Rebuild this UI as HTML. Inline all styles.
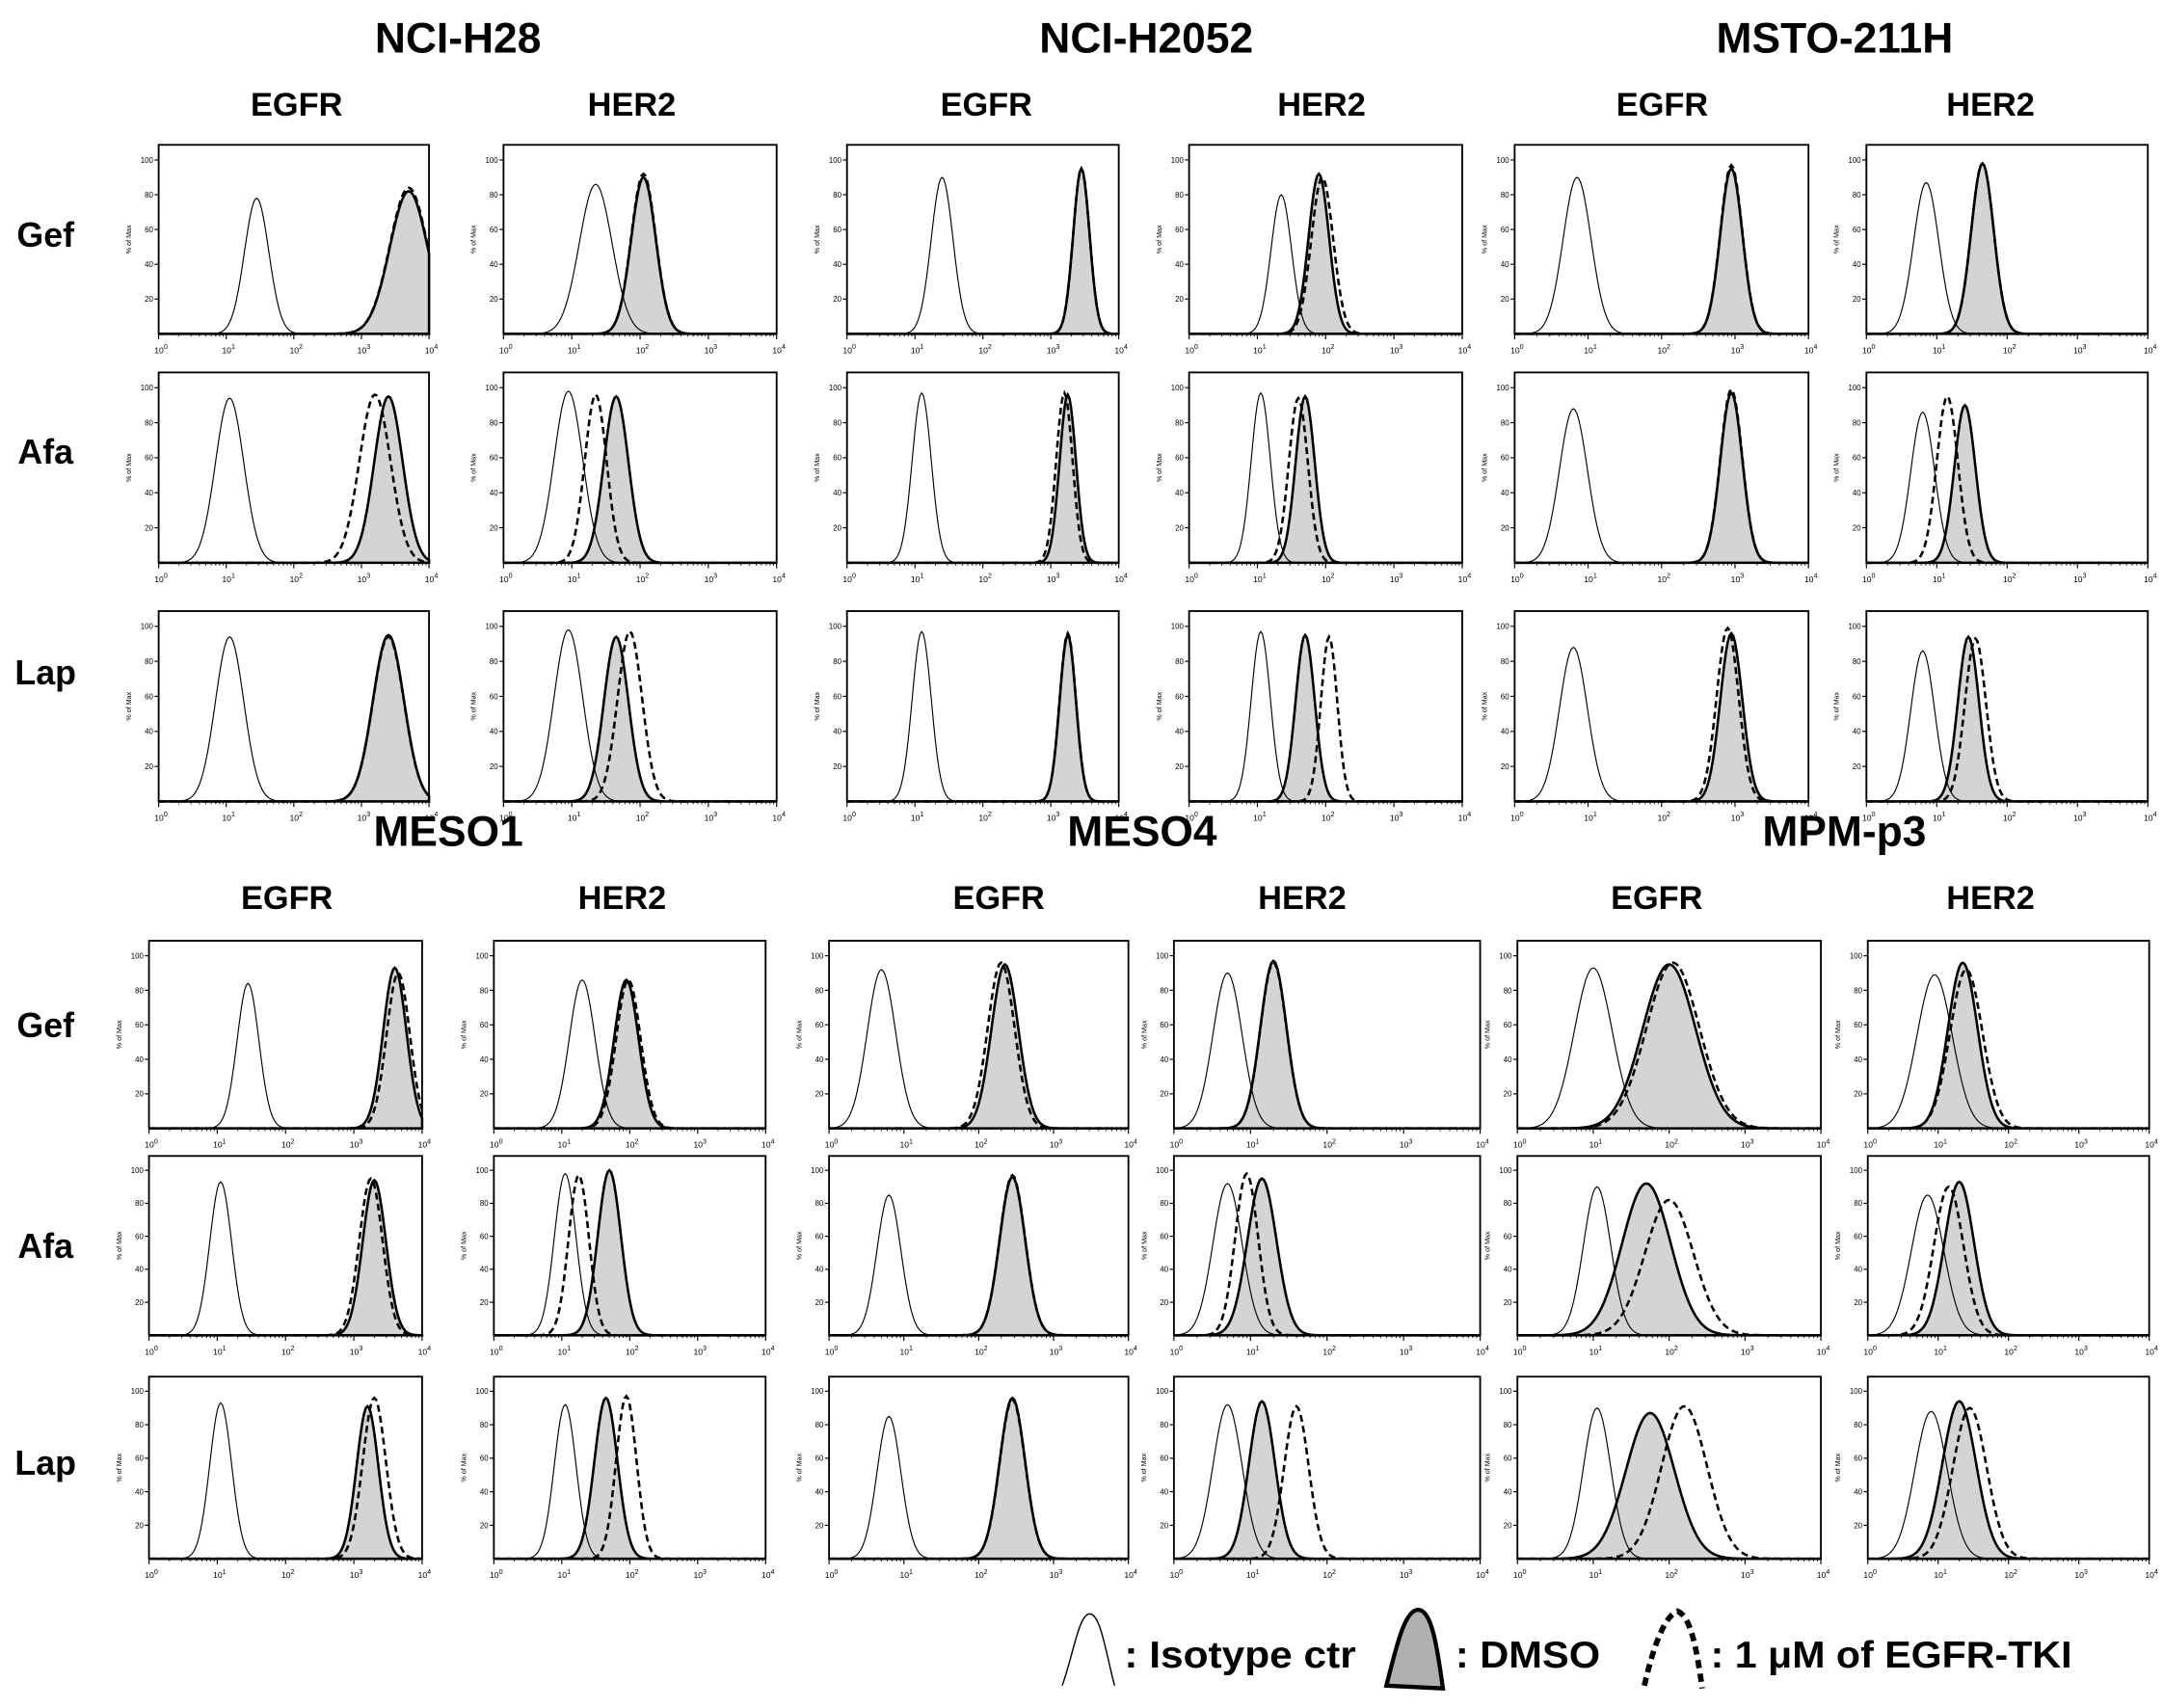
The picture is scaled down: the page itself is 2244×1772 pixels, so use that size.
<!DOCTYPE html>
<html><head><meta charset="utf-8"><style>
html,body{margin:0;padding:0;background:#fff}
svg{display:block}
text{font-family:"Liberation Sans",Arial,sans-serif}
</style></head><body>
<svg id="fig" xmlns="http://www.w3.org/2000/svg" width="2244" height="1772" viewBox="0 0 1568 1238.2">
<rect width="1568" height="1238.2" fill="#fff"/>
<g id="titles" font-weight="bold" text-anchor="middle" fill="#000">
<text x="332" y="38" font-size="31">NCI-H28</text>
<text x="831" y="38" font-size="31">NCI-H2052</text>
<text x="1330" y="38" font-size="31">MSTO-211H</text>
<text x="325" y="613" font-size="31">MESO1</text>
<text x="828" y="613" font-size="31">MESO4</text>
<text x="1337" y="613" font-size="31">MPM-p3</text>
</g>
<g id="panels"></g>
<g id="legend">
<path d="M770,1222 C778,1200 782,1170 790,1170 C798,1170 802,1200 808,1222" fill="none" stroke="#000" stroke-width="1"/>
<text x="815" y="1209" font-size="27" font-weight="bold" textLength="168" lengthAdjust="spacingAndGlyphs">: Isotype ctr</text>
<path d="M1005,1222 C1012,1195 1018,1167 1028,1167 C1038,1167 1042,1195 1046,1224 Z" fill="#b0b0b0" stroke="#000" stroke-width="3"/>
<text x="1055" y="1209" font-size="27" font-weight="bold" textLength="105" lengthAdjust="spacingAndGlyphs">: DMSO</text>
<path d="M1192,1222 C1198,1196 1206,1172 1216,1168 C1226,1172 1230,1196 1234,1224" fill="none" stroke="#000" stroke-width="4" stroke-dasharray="6 4"/>
<text x="1240" y="1209" font-size="27" font-weight="bold" textLength="262" lengthAdjust="spacingAndGlyphs">: 1 μM of EGFR-TKI</text>
</g>
</svg>
<script>
// Panel order: top block (rows Gef, Afa, Lap x 6 columns), then bottom block
const isoC  = [1.45,1.35,1.4,1.35,0.85,0.85, 1.05,0.95,1.1,1.05,0.8,0.8, 1.05,0.95,1.1,1.05,0.8,0.8,
               1.45,1.3,0.7,0.7,1.0,0.95, 1.05,1.05,0.8,0.7,1.05,0.85, 1.05,1.05,0.8,0.7,1.05,0.9];
const isoH  = [78,86,90,80,90,87, 94,98,97,97,88,86, 94,98,97,97,88,86,
               84,86,92,90,93,89, 93,98,85,92,90,85, 93,92,85,92,90,88];
const isoW  = [0.18,0.24,0.16,0.15,0.19,0.18, 0.21,0.21,0.14,0.14,0.19,0.17, 0.21,0.21,0.14,0.14,0.19,0.17,
               0.16,0.19,0.19,0.19,0.25,0.25, 0.16,0.16,0.16,0.19,0.18,0.23, 0.16,0.16,0.16,0.19,0.18,0.23];
const dmsoC = [3.7,2.05,3.45,1.9,2.95,1.65, 3.4,1.65,3.25,1.7,2.95,1.4, 3.4,1.65,3.25,1.7,2.95,1.45,
               3.6,1.95,2.35,1.3,2.0,1.35, 3.3,1.7,2.45,1.15,1.7,1.3, 3.2,1.65,2.45,1.15,1.75,1.3];
const dmsoH = [82,90,95,92,95,98, 95,95,96,95,97,90, 95,94,95,95,96,94,
               93,86,95,97,95,96, 94,100,96,95,92,93, 91,96,96,94,87,94];
const dmsoW = [0.28,0.18,0.12,0.15,0.15,0.16, 0.21,0.18,0.12,0.14,0.15,0.15, 0.23,0.18,0.12,0.14,0.15,0.15,
               0.17,0.18,0.18,0.17,0.35,0.21, 0.17,0.17,0.17,0.19,0.32,0.21, 0.16,0.17,0.17,0.17,0.32,0.24];
const tkiC  = [3.7,2.05,3.45,1.95,2.95,1.65, 3.2,1.35,3.2,1.6,2.95,1.15, 3.4,1.85,3.25,2.05,2.9,1.55,
               3.65,1.98,2.3,1.3,2.05,1.4, 3.25,1.25,2.45,0.95,2.0,1.15, 3.3,1.95,2.45,1.6,2.2,1.45];
const tkiH  = [84,92,95,90,97,98, 96,96,97,94,99,95, 94,97,96,94,99,93,
               90,86,96,96,96,92, 95,97,97,98,82,90, 96,97,95,91,91,90];
const tkiW  = [0.28,0.18,0.12,0.16,0.15,0.16, 0.23,0.16,0.12,0.14,0.15,0.15, 0.23,0.18,0.12,0.12,0.15,0.15,
               0.17,0.18,0.18,0.17,0.35,0.23, 0.17,0.15,0.17,0.15,0.32,0.21, 0.17,0.15,0.17,0.16,0.3,0.24];
const xTicks = ["0","1","2","3","4"];
const yTicks = [20,40,60,80,100];

const NS="http://www.w3.org/2000/svg";
const root=document.getElementById('panels');
const blocks=[
 {cols:[[115,311],[365,563],[614,811],[862,1060],[1098,1311],[1353,1557]], rows:[[105,242],[270,408],[443,581]], labY:[170,327,487], sub:[215,458,715,958,1205,1443], subY:84},
 {cols:[[108,306],[358,555],[601,818],[851,1073],[1100,1320],[1354,1558]], rows:[[682,818],[838,968],[998,1130]], labY:[743,903,1060], sub:[208,451,724,944,1201,1443], subY:659}
];
const rowNames=["Gef","Afa","Lap"];
const subNames=["EGFR","HER2","EGFR","HER2","EGFR","HER2"];
function mk(tag,attrs,parent){const e=document.createElementNS(NS,tag);for(const k in attrs)e.setAttribute(k,attrs[k]);(parent||root).appendChild(e);return e;}
function curve(c,w,h,sx,sy,close){
  let d="";const n=160;
  for(let i=0;i<=n;i++){const lx=i*4/n;const v=h*Math.exp(-0.5*Math.pow((lx-c)/w,2));d+=(i?"L":"M")+sx(lx).toFixed(2)+","+sy(v).toFixed(2);}
  if(close)d+="L"+sx(4)+","+sy(0)+"L"+sx(0)+","+sy(0)+"Z";
  return d;
}
let idx=0;
blocks.forEach((b,bi)=>{
  b.sub.forEach((x,i)=>{
    const t=mk('text',{x:x,y:b.subY,'font-size':24,'font-weight':'bold','text-anchor':'middle'});
    
    
    t.textContent=subNames[i];
  });
  b.rows.forEach((r,ri)=>{
    const t=mk('text',{x:33,y:b.labY[ri]+9,'font-size':25,'font-weight':'bold','text-anchor':'middle'});
    
    
    t.textContent=rowNames[ri];
    b.cols.forEach((c,ci)=>{
      const g=mk('g',{});
      
      
      const L=c[0],R=c[1],T=r[0],B=r[1];
      const sx=v=>L+(R-L)*v/4;
      const top100=T+(B-T)*0.08;
      const sy=v=>B-(B-top100)*v/100;
      const k=idx++;
      const dm=mk('path',{d:curve(dmsoC[k],dmsoW[k],dmsoH[k],sx,sy,true),fill:'#d4d4d4',stroke:'#000','stroke-width':1.8},g);
      
      
      const is=mk('path',{d:curve(isoC[k],isoW[k],isoH[k],sx,sy,false),fill:'none',stroke:'#000','stroke-width':0.8},g);
      
      
      const tk=mk('path',{d:curve(tkiC[k],tkiW[k],tkiH[k],sx,sy,false),fill:'none',stroke:'#000','stroke-width':1.8,'stroke-dasharray':'5 3'},g);
      
      
      const box=mk('rect',{x:L,y:T,width:R-L,height:B-T,fill:'none',stroke:'#000','stroke-width':1.3},g);
      
      
      xTicks.forEach((lab,ti)=>{
        const x=sx(ti);
        mk('line',{x1:x,y1:B,x2:x,y2:B+4,stroke:'#000','stroke-width':0.8},g);
        if(ti<4)for(let m=2;m<10;m++){const xm=sx(ti+Math.log10(m));mk('line',{x1:xm,y1:B,x2:xm,y2:B+2,stroke:'#000','stroke-width':0.6},g);}
        const tl=mk('text',{x:x-3,y:B+14,'font-size':6},g);
        
        
        tl.textContent='10';
        const sp=mk('tspan',{dy:-3,'font-size':5},tl);sp.textContent=lab;
      });
      yTicks.forEach(v=>{
        const y=sy(v);
        mk('line',{x1:L-3,y1:y,x2:L,y2:y,stroke:'#000','stroke-width':0.8},g);
        const yl=mk('text',{x:L-4,y:y+2,'font-size':5.5,'text-anchor':'end'},g);
        
        
        yl.textContent=v;
      });
      const ya=mk('text',{x:L-20,y:(T+B)/2,'font-size':5,'text-anchor':'middle',transform:'rotate(-90 '+(L-20)+' '+((T+B)/2)+')'},g);
      
      
      ya.textContent='% of Max';
    });
  });
});
</script>
</body></html>
